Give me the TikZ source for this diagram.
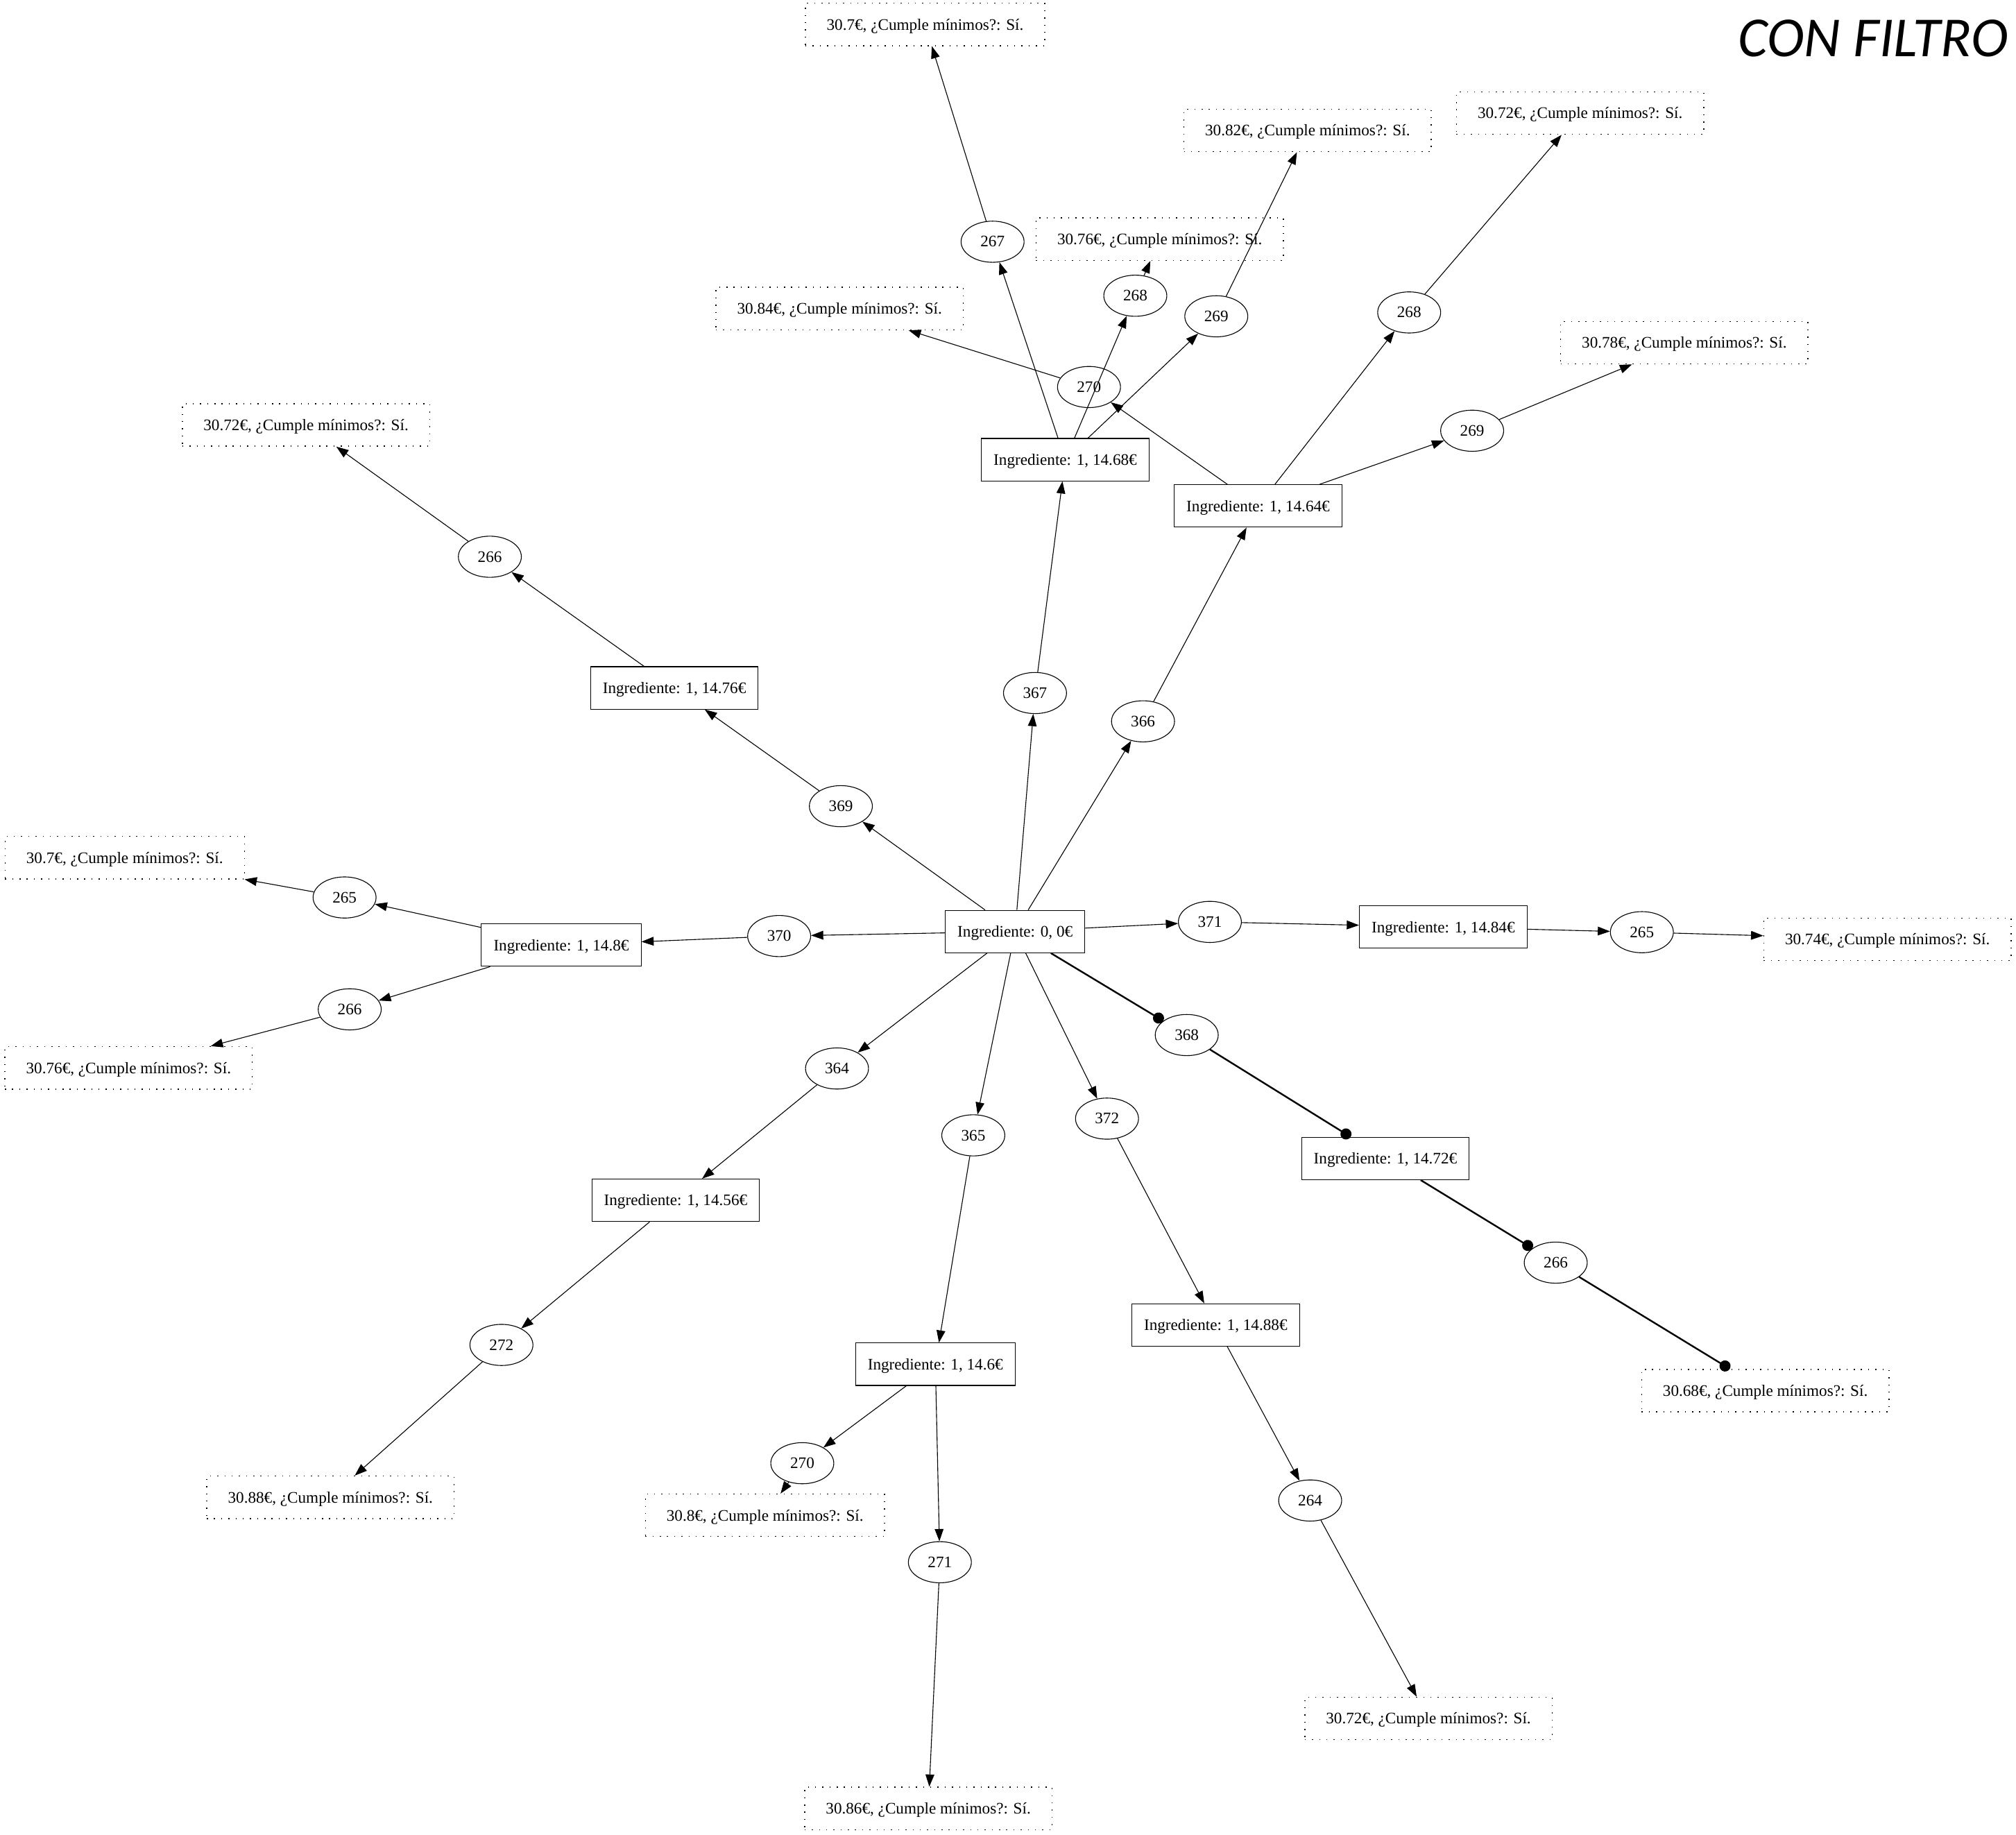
\documentclass[tikz,border=0pt]{standalone}
\usepackage{fontspec}
\setmainfont{Liberation Serif}
\newfontfamily\titlefont{Carlito}
\usetikzlibrary{arrows.meta,shapes.geometric}
\begin{document}
\begin{tikzpicture}[x=1pt,y=-1pt,
  every node/.style={font=\fontsize{12.5}{15}\selectfont},
  ibox/.style={draw,rectangle,line width=0.6pt,minimum height=33pt,inner xsep=9.5pt,inner ysep=0pt,text height=8.5pt,text depth=0pt},
  enode/.style={draw,ellipse,line width=0.6pt,minimum width=49pt,minimum height=32pt,inner sep=0pt},
  leaf/.style={draw,rectangle,line width=0.8pt,dash pattern=on 0.8pt off 4.8pt,minimum height=33pt,inner xsep=16.5pt,inner ysep=0pt,text height=8.5pt,text depth=0pt},
  edge/.style={line width=0.6pt,-{Triangle[length=9.5pt,width=6.8pt]}},
  bedge/.style={line width=1.3pt,-{Circle[length=8.6pt]}}
]
\useasboundingbox (0,0) rectangle (1568,1427);

\node[anchor=base east,inner sep=0pt,font=\titlefont\itshape\fontsize{44}{50}\selectfont] (title) at (1562,44) {CON FILTRO};

% center
\node[ibox] (c) at (789.5,724.5) {Ingrediente: 0, 0€};

% level 1 ellipses
\node[enode] (e371) at (941,717) {371};
\node[enode] (e370) at (606,728) {370};
\node[enode] (e369) at (654,627) {369};
\node[enode] (e367) at (805,539) {367};
\node[enode] (e366) at (889,561) {366};
\node[enode] (e364) at (651,831) {364};
\node[enode] (e365) at (757,883) {365};
\node[enode] (e372) at (861,870) {372};
\node[enode] (e368) at (923,805) {368};

% level 1 boxes
\node[ibox] (b84) at (1122.5,721) {Ingrediente: 1, 14.84€};
\node[ibox] (b80) at (436.5,735) {Ingrediente: 1, 14.8€};
\node[ibox] (b76) at (524.5,535) {Ingrediente: 1, 14.76€};
\node[ibox] (b68) at (828.5,357.5) {Ingrediente: 1, 14.68€};
\node[ibox] (b64) at (978.5,393.5) {Ingrediente: 1, 14.64€};
\node[ibox] (b56) at (525.5,933.5) {Ingrediente: 1, 14.56€};
\node[ibox] (b60) at (727.5,1061) {Ingrediente: 1, 14.6€};
\node[ibox] (b88) at (945.5,1030.5) {Ingrediente: 1, 14.88€};
\node[ibox] (b72) at (1077.5,901) {Ingrediente: 1, 14.72€};

% level 2 ellipses
\node[enode] (f267) at (772,188) {267};
\node[enode] (f268a) at (883,230) {268};
\node[enode] (f269a) at (946,246) {269};
\node[enode] (f270a) at (847,301) {270};
\node[enode] (f268b) at (1096,243) {268};
\node[enode] (f269b) at (1145,335) {269};
\node[enode] (f266a) at (381,433) {266};
\node[enode] (f265b) at (268,698) {265};
\node[enode] (f266b) at (272,785) {266};
\node[enode] (f265a) at (1277,725) {265};
\node[enode] (f266c) at (1210,982) {266};
\node[enode] (f272) at (390,1046) {272};
\node[enode] (f270b) at (624,1138) {270};
\node[enode] (f271) at (731,1215) {271};
\node[enode] (f264) at (1019,1167) {264};

% leaves
\node[leaf] (l1) at (719.5,19) {30.7€, ¿Cumple mínimos?: Sí.};
\node[leaf] (l2) at (1017,101.5) {30.82€, ¿Cumple mínimos?: Sí.};
\node[leaf] (l3) at (1229,88) {30.72€, ¿Cumple mínimos?: Sí.};
\node[leaf] (l4) at (902,186) {30.76€, ¿Cumple mínimos?: Sí.};
\node[leaf] (l5) at (653,240) {30.84€, ¿Cumple mínimos?: Sí.};
\node[leaf] (l6) at (1310,266.5) {30.78€, ¿Cumple mínimos?: Sí.};
\node[leaf] (l7) at (238,330.5) {30.72€, ¿Cumple mínimos?: Sí.};
\node[leaf] (l8) at (97,667) {30.7€, ¿Cumple mínimos?: Sí.};
\node[leaf] (l9) at (100,830.5) {30.76€, ¿Cumple mínimos?: Sí.};
\node[leaf] (l10) at (1468,730.5) {30.74€, ¿Cumple mínimos?: Sí.};
\node[leaf] (l11) at (1373,1081.5) {30.68€, ¿Cumple mínimos?: Sí.};
\node[leaf] (l12) at (257,1164.5) {30.88€, ¿Cumple mínimos?: Sí.};
\node[leaf] (l13) at (595,1178.5) {30.8€, ¿Cumple mínimos?: Sí.};
\node[leaf] (l14) at (722,1406.5) {30.86€, ¿Cumple mínimos?: Sí.};
\node[leaf] (l15) at (1111,1336.5) {30.72€, ¿Cumple mínimos?: Sí.};

% edges from center
\draw[edge] (c) -- (e371);
\draw[edge] (c) -- (e370);
\draw[edge] (c) -- (e369);
\draw[edge] (c) -- (e367);
\draw[edge] (c) -- (e366);
\draw[edge] (c) -- (e364);
\draw[edge] (c) -- (e365);
\draw[edge] (c) -- (e372);
\draw[bedge] (c) -- (e368);

% level 1
\draw[edge] (e371) -- (b84);
\draw[edge] (e370) -- (b80);
\draw[edge] (e369) -- (b76);
\draw[edge] (e367) -- (b68);
\draw[edge] (e366) -- (b64);
\draw[edge] (e364) -- (b56);
\draw[edge] (e365) -- (b60);
\draw[edge] (e372) -- (b88);
\draw[bedge] (e368) -- (b72);

% level 2
\draw[edge] (b84) -- (f265a);
\draw[edge] (b80) -- (f265b);
\draw[edge] (b80) -- (f266b);
\draw[edge] (b76) -- (f266a);
\draw[edge] (b68) -- (f267);
\draw[edge] (b68) -- (f268a);
\draw[edge] (b68) -- (f269a);
\draw[edge] (b64) -- (f270a);
\draw[edge] (b64) -- (f268b);
\draw[edge] (b64) -- (f269b);
\draw[edge] (b56) -- (f272);
\draw[edge] (b60) -- (f270b);
\draw[edge] (b60) -- (f271);
\draw[edge] (b88) -- (f264);
\draw[bedge] (b72) -- (f266c);

% leaves
\draw[edge] (f265a) -- (l10);
\draw[edge] (f265b) -- (l8);
\draw[edge] (f266b) -- (l9);
\draw[edge] (f266a) -- (l7);
\draw[edge] (f267) -- (l1);
\draw[edge] (f268a) -- (l4);
\draw[edge] (f269a) -- (l2);
\draw[edge] (f270a) -- (l5);
\draw[edge] (f268b) -- (l3);
\draw[edge] (f269b) -- (l6);
\draw[edge] (f272) -- (l12);
\draw[edge] (f270b) -- (l13);
\draw[edge] (f271) -- (l14);
\draw[edge] (f264) -- (l15);
\draw[bedge] (f266c) -- (l11);
\end{tikzpicture}
\end{document}
